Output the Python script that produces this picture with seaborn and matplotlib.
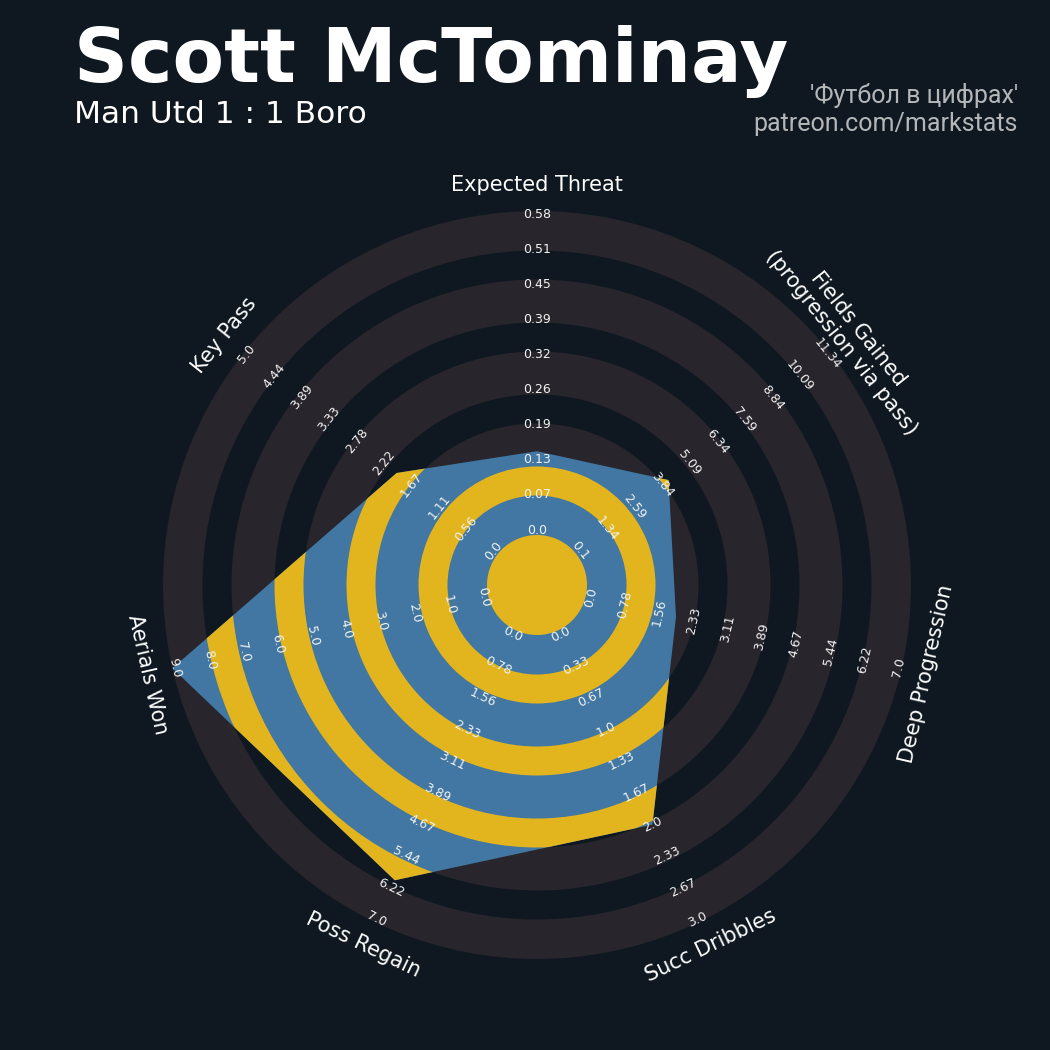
import numpy as np
import matplotlib
matplotlib.use("Agg")
import matplotlib.pyplot as plt
import seaborn as sns
from matplotlib.patches import Circle, Wedge, Polygon

# ---- data -------------------------------------------------------------
params = ["Expected Threat", "Fields Gained\n(progression via pass)", "Deep Progression",
          "Succ Dribbles", "Poss Regain", "Aerials Won", "Key Pass"]
low = [0.0, 0.095, 0.0, 0.0, 0.0, 0.0, 0.0]
high = [0.58, 11.34, 7.0, 3.0, 7.0, 9.0, 5.0]
values = [0.15, 4.2, 2.0, 2.0, 6.0, 9.0, 2.0]

range_labels = [
    ["0.0", "0.07", "0.13", "0.19", "0.26", "0.32", "0.39", "0.45", "0.51", "0.58"],
    ["0.1", "1.34", "2.59", "3.84", "5.09", "6.34", "7.59", "8.84", "10.09", "11.34"],
    ["0.0", "0.78", "1.56", "2.33", "3.11", "3.89", "4.67", "5.44", "6.22", "7.0"],
    ["0.0", "0.33", "0.67", "1.0", "1.33", "1.67", "2.0", "2.33", "2.67", "3.0"],
    ["0.0", "0.78", "1.56", "2.33", "3.11", "3.89", "4.67", "5.44", "6.22", "7.0"],
    ["0.0", "1.0", "2.0", "3.0", "4.0", "5.0", "6.0", "7.0", "8.0", "9.0"],
    ["0.0", "0.56", "1.11", "1.67", "2.22", "2.78", "3.33", "3.89", "4.44", "5.0"],
]

title = "Scott McTominay"
subtitle = "Man Utd 1 : 1 Boro"
credit_1 = "'Футбол в цифрах'"
credit_2 = "patreon.com/markstats"

# ---- style ------------------------------------------------------------
BG = "#0f1820"
RING = "#28252c"
BLUE = "#4177a2"
GOLD = "#e2b51e"
CREDIT = "#b4b6b8"

sns.set_theme(style="dark", rc={"axes.facecolor": BG, "figure.facecolor": BG})
plt.rcParams["font.family"] = ["DejaVu Sans"]

# radar geometry (axis units = pixels of the saved figure)
R_IN = 50.0        # centre circle
R_OUT = 374.0      # outer edge of the last ring
N_BANDS = 9
STEP = (R_OUT - R_IN) / N_BANDS
GAP = 29.0         # width of the narrow (dark / gold) bands
CX, CY = 537, 585

fig = plt.figure(figsize=(10.5, 10.5), dpi=100, facecolor=BG)
ax = fig.add_axes([0, 0, 1, 1])
ax.set_xlim(-CX, 1050 - CX)
ax.set_ylim(-(1050 - CY), CY)
ax.set_aspect("equal")
ax.axis("off")

n = len(params)
theta = np.pi / 2 - 2 * np.pi * np.arange(n) / n


def to_radius(v, lo, hi):
    return R_IN + (v - lo) / (hi - lo) * (R_OUT - R_IN)


# background rings
ax.add_patch(Circle((0, 0), R_OUT, facecolor=RING, edgecolor="none", zorder=1))
gap_mid = [R_IN + STEP * (k + 0.5) for k in (1, 3, 5, 7)]
for m in gap_mid:
    ax.add_patch(Wedge((0, 0), m + GAP / 2, 0, 360, width=GAP,
                       facecolor=BG, edgecolor="none", zorder=2))

# radar polygon
radii = np.array([to_radius(v, lo, hi) for v, lo, hi in zip(values, low, high)])
verts = np.column_stack([radii * np.cos(theta), radii * np.sin(theta)])
poly = Polygon(verts, closed=True, facecolor=BLUE, edgecolor="none", zorder=3)
ax.add_patch(poly)

# rings inside the radar
inner = [Circle((0, 0), R_IN, facecolor=GOLD, edgecolor="none", zorder=4)]
for m in gap_mid:
    inner.append(Wedge((0, 0), m + GAP / 2, 0, 360, width=GAP,
                       facecolor=GOLD, edgecolor="none", zorder=4))
for p in inner:
    ax.add_patch(p)
    p.set_clip_path(poly)

# label rotations (tangent to the circle, kept readable)
rot = np.where(np.sin(theta) > 0, np.degrees(theta) - 90, np.degrees(theta) + 90)

# range labels
label_r = np.linspace(55, 371, N_BANDS + 1)
for i in range(n):
    for r, s in zip(label_r, range_labels[i]):
        ax.text(r * np.cos(theta[i]), r * np.sin(theta[i]), s, rotation=rot[i],
                ha="center", va="center", rotation_mode="anchor",
                fontsize=9, color="#f2f2f2", zorder=6)

# parameter labels
LAB_R = 400
for i in range(n):
    ax.text(LAB_R * np.cos(theta[i]), LAB_R * np.sin(theta[i]), params[i],
            rotation=rot[i], rotation_mode="anchor", ha="center", va="center",
            multialignment="center", linespacing=1.1,
            fontsize=15, color="#fcfcfc", zorder=6)

# titles
fig.text(74 / 1050, 1 - 82 / 1050, title, fontsize=54, fontweight="bold",
         color="white", ha="left", va="baseline")
fig.text(74.5 / 1050, 1 - 123 / 1050, subtitle, fontsize=22.5,
         color="white", ha="left", va="baseline")
fig.text(1018 / 1050, 1 - 103 / 1050, credit_1, fontsize=18, family=["Roboto", "DejaVu Sans"],
         color=CREDIT, ha="right", va="baseline")
fig.text(1018 / 1050, 1 - 131 / 1050, credit_2, fontsize=18, family=["Roboto", "DejaVu Sans"],
         color=CREDIT, ha="right", va="baseline")

fig.savefig("out.png", dpi=100, facecolor=BG)
